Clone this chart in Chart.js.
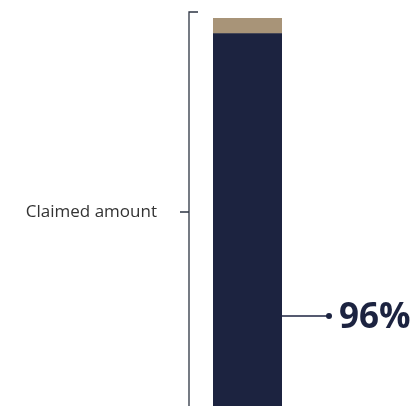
<!DOCTYPE html>
<html>
<head>
<meta charset="utf-8">
<script src="https://cdn.jsdelivr.net/npm/chart.js@4"></script>
<style>
  html, body { margin: 0; padding: 0; background: #fff; }
  #wrap { width: 414px; height: 406px; }
</style>
</head>
<body>
<div id="wrap"><canvas id="claimChart"></canvas></div>
<script>
// data
const categories = ['Claim'];
const paidShare = [96];
const remainderShare = [4];
const bracketLabel = 'Claimed amount';

const NAVY = '#1c2340';
const TAN = '#a89478';

// bracket on the left, pointer line with the percentage on the right
const annotations = {
    id: 'annotations',
    afterDatasetsDraw(chart) {
        const { ctx, chartArea, scales } = chart;
        const y = scales.y;
        const bx = chartArea.left - 24;
        const top = y.getPixelForValue(100) - 6;
        const bottom = chartArea.bottom;
        const mid = y.getPixelForValue(50);

        ctx.save();
        ctx.strokeStyle = '#2d3543';
        ctx.lineWidth = 1.3;
        ctx.beginPath();
        ctx.moveTo(bx + 9, top);
        ctx.lineTo(bx, top);
        ctx.lineTo(bx, bottom);
        ctx.moveTo(bx, mid);
        ctx.lineTo(bx - 9, mid);
        ctx.stroke();

        ctx.fillStyle = '#333';
        ctx.font = '17px "Open Sans"';
        ctx.textAlign = 'right';
        ctx.textBaseline = 'middle';
        ctx.fillText(bracketLabel, bx - 32, mid);

        // pointer from bar edge to the value label
        const py = y.getPixelForValue(23.2);
        const x0 = chartArea.right;
        const x1 = x0 + 47;
        ctx.strokeStyle = NAVY;
        ctx.lineWidth = 1.5;
        ctx.beginPath();
        ctx.moveTo(x0, py);
        ctx.lineTo(x1, py);
        ctx.stroke();
        ctx.fillStyle = NAVY;
        ctx.beginPath();
        ctx.arc(x1, py, 3, 0, Math.PI * 2);
        ctx.fill();

        ctx.font = 'bold 35px "Open Sans"';
        ctx.textAlign = 'left';
        ctx.textBaseline = 'alphabetic';
        ctx.fillText(paidShare[0] + '%', x1 + 10, py + 12);
        ctx.restore();
    }
};

new Chart(document.getElementById('claimChart'), {
    type: 'bar',
    data: {
        labels: categories,
        datasets: [
            { data: paidShare, backgroundColor: NAVY, barPercentage: 1, categoryPercentage: 1 },
            { data: remainderShare, backgroundColor: TAN, barPercentage: 1, categoryPercentage: 1 }
        ]
    },
    options: {
        responsive: true,
        maintainAspectRatio: false,
        animation: false,
        layout: { padding: { left: 213, right: 132, top: 18, bottom: 0 } },
        plugins: { legend: { display: false }, tooltip: { enabled: false } },
        scales: {
            x: { stacked: true, display: false },
            y: { stacked: true, display: false, min: 0, max: 100 }
        }
    },
    plugins: [annotations]
});
</script>
</body>
</html>
